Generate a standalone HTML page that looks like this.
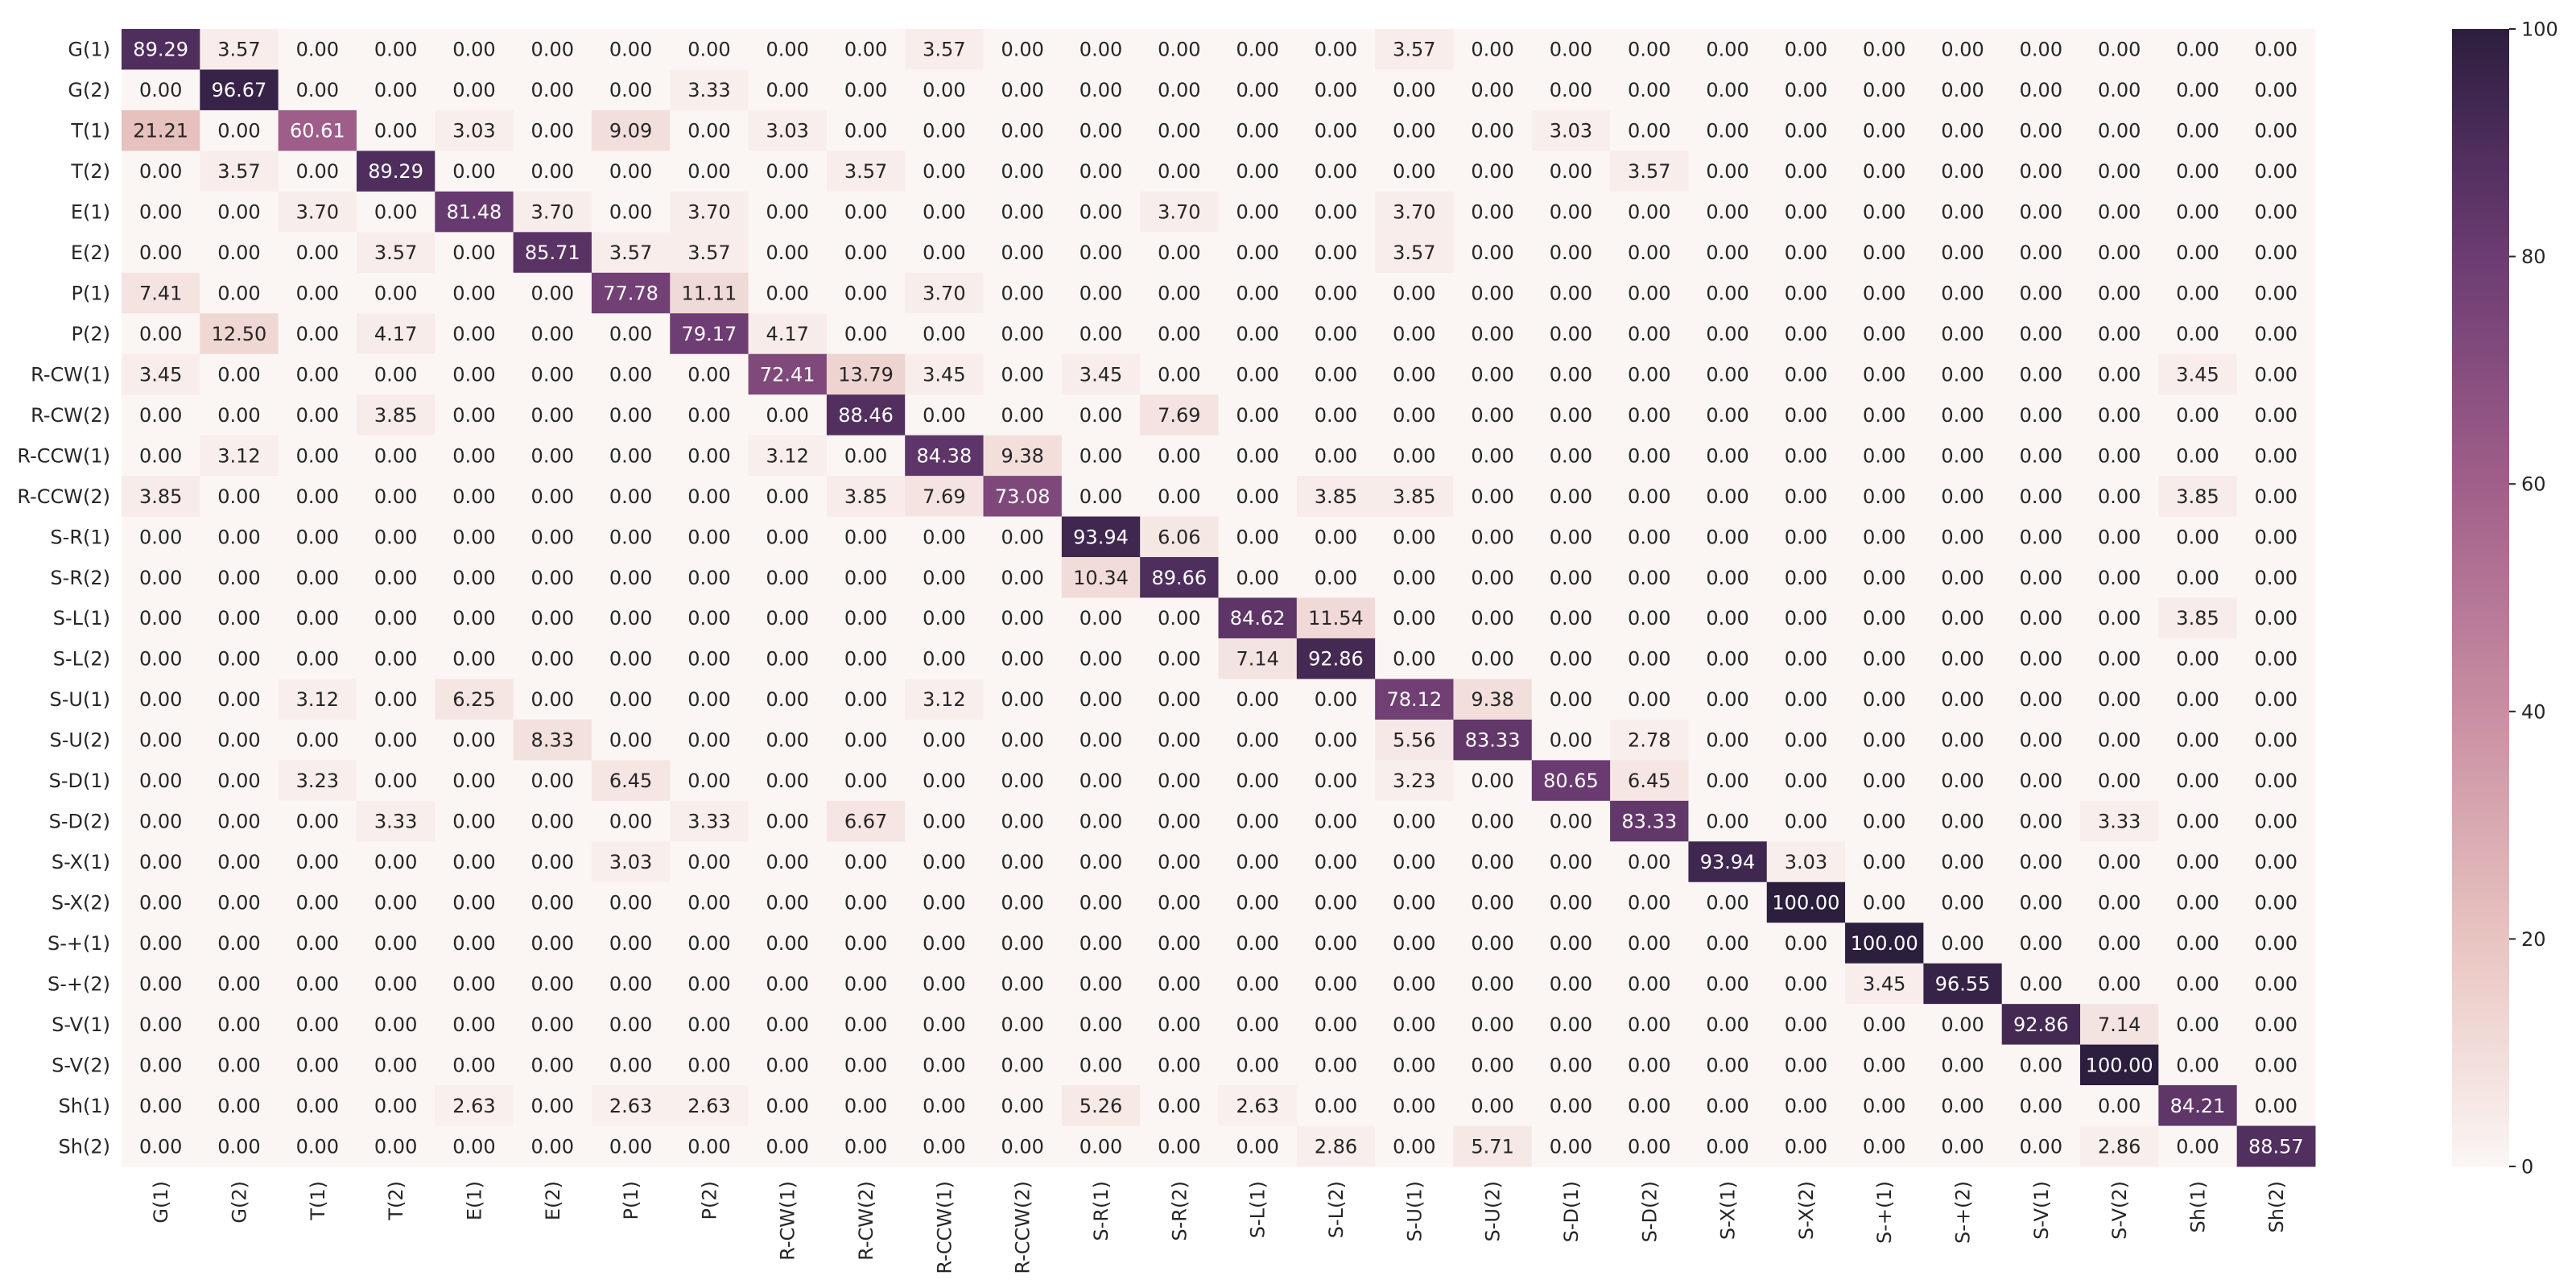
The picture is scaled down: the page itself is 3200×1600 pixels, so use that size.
<!DOCTYPE html>
<html><head><meta charset="utf-8"><style>
html,body{margin:0;padding:0;background:#fff;}
svg{display:block;font-family:"DejaVu Sans","Liberation Sans",sans-serif;}
</style></head><body>
<svg id="chart" width="3200" height="1600" viewBox="0 0 3200 1600" xmlns="http://www.w3.org/2000/svg">
<defs>
<linearGradient id="cbgrad" x1="0" y1="1" x2="0" y2="0">
<stop offset="0" stop-color="#fbf6f4"/><stop offset="0.2" stop-color="#e8c4c0"/><stop offset="0.4" stop-color="#c98ea2"/><stop offset="0.6" stop-color="#a05f8a"/><stop offset="0.8" stop-color="#6c3c72"/><stop offset="0.9" stop-color="#4d2d5b"/><stop offset="1" stop-color="#2c1e3d"/>
</linearGradient>
</defs>
<g id="cells"></g>
<g id="ylabels"></g>
<g id="xlabels"></g>
<rect x="3046" y="36" width="71" height="1413" fill="url(#cbgrad)"/>
<g id="cbticks"></g>
</svg>
<script>
const labels = ["G(1)","G(2)","T(1)","T(2)","E(1)","E(2)","P(1)","P(2)","R-CW(1)","R-CW(2)","R-CCW(1)","R-CCW(2)","S-R(1)","S-R(2)","S-L(1)","S-L(2)","S-U(1)","S-U(2)","S-D(1)","S-D(2)","S-X(1)","S-X(2)","S-+(1)","S-+(2)","S-V(1)","S-V(2)","Sh(1)","Sh(2)"];
const matrix = [
[89.29,3.57,0,0,0,0,0,0,0,0,3.57,0,0,0,0,0,3.57,0,0,0,0,0,0,0,0,0,0,0],
[0,96.67,0,0,0,0,0,3.33,0,0,0,0,0,0,0,0,0,0,0,0,0,0,0,0,0,0,0,0],
[21.21,0,60.61,0,3.03,0,9.09,0,3.03,0,0,0,0,0,0,0,0,0,3.03,0,0,0,0,0,0,0,0,0],
[0,3.57,0,89.29,0,0,0,0,0,3.57,0,0,0,0,0,0,0,0,0,3.57,0,0,0,0,0,0,0,0],
[0,0,3.70,0,81.48,3.70,0,3.70,0,0,0,0,0,3.70,0,0,3.70,0,0,0,0,0,0,0,0,0,0,0],
[0,0,0,3.57,0,85.71,3.57,3.57,0,0,0,0,0,0,0,0,3.57,0,0,0,0,0,0,0,0,0,0,0],
[7.41,0,0,0,0,0,77.78,11.11,0,0,3.70,0,0,0,0,0,0,0,0,0,0,0,0,0,0,0,0,0],
[0,12.50,0,4.17,0,0,0,79.17,4.17,0,0,0,0,0,0,0,0,0,0,0,0,0,0,0,0,0,0,0],
[3.45,0,0,0,0,0,0,0,72.41,13.79,3.45,0,3.45,0,0,0,0,0,0,0,0,0,0,0,0,0,3.45,0],
[0,0,0,3.85,0,0,0,0,0,88.46,0,0,0,7.69,0,0,0,0,0,0,0,0,0,0,0,0,0,0],
[0,3.12,0,0,0,0,0,0,3.12,0,84.38,9.38,0,0,0,0,0,0,0,0,0,0,0,0,0,0,0,0],
[3.85,0,0,0,0,0,0,0,0,3.85,7.69,73.08,0,0,0,3.85,3.85,0,0,0,0,0,0,0,0,0,3.85,0],
[0,0,0,0,0,0,0,0,0,0,0,0,93.94,6.06,0,0,0,0,0,0,0,0,0,0,0,0,0,0],
[0,0,0,0,0,0,0,0,0,0,0,0,10.34,89.66,0,0,0,0,0,0,0,0,0,0,0,0,0,0],
[0,0,0,0,0,0,0,0,0,0,0,0,0,0,84.62,11.54,0,0,0,0,0,0,0,0,0,0,3.85,0],
[0,0,0,0,0,0,0,0,0,0,0,0,0,0,7.14,92.86,0,0,0,0,0,0,0,0,0,0,0,0],
[0,0,3.12,0,6.25,0,0,0,0,0,3.12,0,0,0,0,0,78.12,9.38,0,0,0,0,0,0,0,0,0,0],
[0,0,0,0,0,8.33,0,0,0,0,0,0,0,0,0,0,5.56,83.33,0,2.78,0,0,0,0,0,0,0,0],
[0,0,3.23,0,0,0,6.45,0,0,0,0,0,0,0,0,0,3.23,0,80.65,6.45,0,0,0,0,0,0,0,0],
[0,0,0,3.33,0,0,0,3.33,0,6.67,0,0,0,0,0,0,0,0,0,83.33,0,0,0,0,0,3.33,0,0],
[0,0,0,0,0,0,3.03,0,0,0,0,0,0,0,0,0,0,0,0,0,93.94,3.03,0,0,0,0,0,0],
[0,0,0,0,0,0,0,0,0,0,0,0,0,0,0,0,0,0,0,0,0,100,0,0,0,0,0,0],
[0,0,0,0,0,0,0,0,0,0,0,0,0,0,0,0,0,0,0,0,0,0,100,0,0,0,0,0],
[0,0,0,0,0,0,0,0,0,0,0,0,0,0,0,0,0,0,0,0,0,0,3.45,96.55,0,0,0,0],
[0,0,0,0,0,0,0,0,0,0,0,0,0,0,0,0,0,0,0,0,0,0,0,0,92.86,7.14,0,0],
[0,0,0,0,0,0,0,0,0,0,0,0,0,0,0,0,0,0,0,0,0,0,0,0,0,100,0,0],
[0,0,0,0,2.63,0,2.63,2.63,0,0,0,0,5.26,0,2.63,0,0,0,0,0,0,0,0,0,0,0,84.21,0],
[0,0,0,0,0,0,0,0,0,0,0,0,0,0,0,2.86,0,5.71,0,0,0,0,0,0,0,2.86,0,88.57]
];
const cbTicks = [0,20,40,60,80,100];

const NS = "http://www.w3.org/2000/svg";
const FS = 24, BO = 8.5;
const L = 151, R = 2876, T = 36, B = 1449;
const cw = (R - L) / labels.length, ch = (B - T) / labels.length;
const xPos = i => L + i * cw;
const yPos = i => T + i * ch;
const cbY = v => 1449 - (v / 100) * 1413;
const stops = [[0,[251,246,244]],[20,[232,196,192]],[40,[201,142,162]],[60,[160,95,138]],[80,[108,60,114]],[90,[77,45,91]],[100,[44,30,61]]];
function color(v){
  for(let k=1;k<stops.length;k++){
    if(v<=stops[k][0]){
      const a=stops[k-1],b=stops[k],t=(v-a[0])/(b[0]-a[0]);
      return "rgb("+a[1].map((c,j)=>Math.round(c+(b[1][j]-c)*t)).join(",")+")";
    }
  }
  return "rgb(44,30,61)";
}
function mk(tag, attrs, parent){
  const e=document.createElementNS(NS,tag);
  for(const k in attrs) e.setAttribute(k,attrs[k]);
  parent.appendChild(e); return e;
}
const gc=document.getElementById("cells");
matrix.forEach((row,r)=>row.forEach((v,c)=>{
  const rect=mk("rect",{x:xPos(c),y:yPos(r),width:cw+0.5,height:ch+0.5,fill:color(v)},gc);
  
  
  const t=mk("text",{x:xPos(c)+cw/2,y:yPos(r)+ch/2+BO,"text-anchor":"middle","font-size":FS,fill:v>50?"#ffffff":"#262626"},gc);
  t.textContent=v.toFixed(2);
  
  
}));
const gy=document.getElementById("ylabels");
labels.forEach((lab,i)=>{
  const t=mk("text",{x:137,y:yPos(i)+ch/2+BO,"text-anchor":"end","font-size":FS,fill:"#262626"},gy);
  t.textContent=lab;
  
  
});
const gx=document.getElementById("xlabels");
labels.forEach((lab,i)=>{
  const cx=xPos(i)+cw/2+BO;
  const t=mk("text",{x:cx,y:1467,"text-anchor":"end","font-size":FS,fill:"#262626",transform:"rotate(-90 "+cx+" 1467)"},gx);
  t.textContent=lab;
  
  
});
const gt=document.getElementById("cbticks");
cbTicks.forEach(v=>{
  const ln=mk("line",{x1:3117,x2:3125,y1:cbY(v),y2:cbY(v),stroke:"#262626","stroke-width":"2"},gt);
  
  
  const t=mk("text",{x:3132,y:cbY(v)+BO,"font-size":FS,fill:"#262626"},gt);
  t.textContent=String(v);
  
  
});
</script>
</body></html>
